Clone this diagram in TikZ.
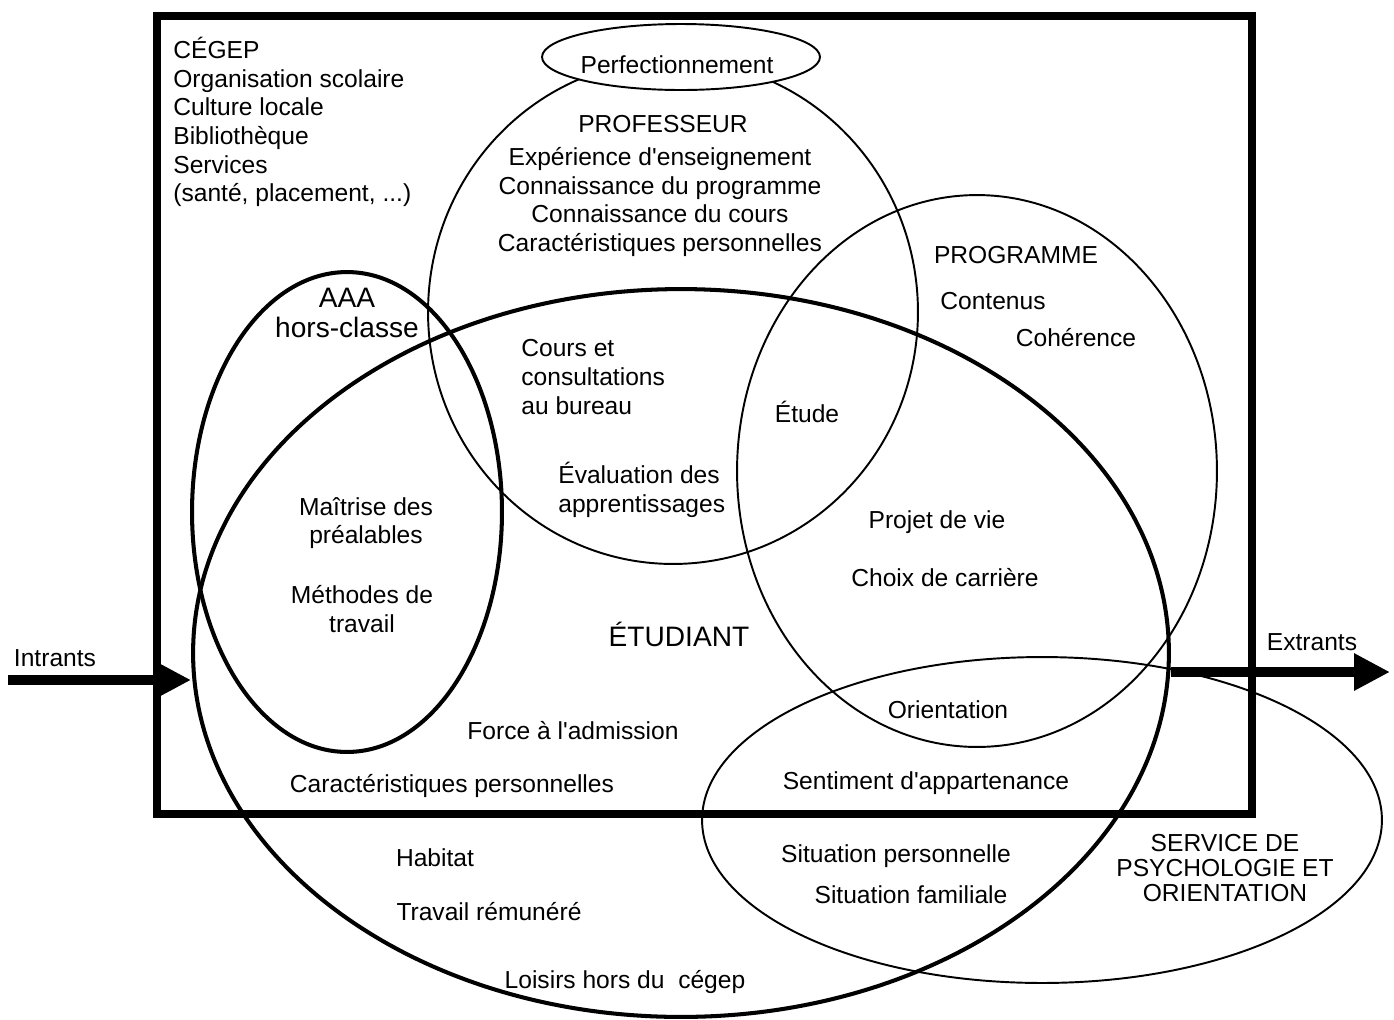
\documentclass[tikz,border=0pt]{standalone}
\usepackage{fontspec}
\setmainfont{Liberation Sans}
\usetikzlibrary{arrows.meta}
\usetikzlibrary{shapes.geometric}
\tikzset {
  % sets of the diagram
  set/.style = {
    draw = black,
    ellipse,
    line width = 1.1pt,
    inner sep = 0
  },
  set thick/.style = {
    set,
    line width = 2.3pt
  },
  frame/.style = {
    draw = black,
    line width = 4.5pt
  },
  % thick in/out arrows
  flow/.style = {
    line width = 0.2cm,
    -{Triangle[length = 0.72cm, width = 0.7cm]}
  }
}
\tikzset {
  txt/.style = {
    font = \fontsize{14}{16.3}\selectfont,
    inner sep = 0,
    align = center
  },
  big txt/.style = {
    txt,
    font = \fontsize{16}{17}\selectfont
  },
  tight txt/.style = {
    txt,
    font = \fontsize{14}{14.2}\selectfont
  }
}
\newcommand{\apos}{\textquotesingle}
\begin{document}
\begin{tikzpicture}[x = 0.02cm, y = -0.02cm]
    \useasboundingbox (0,0) rectangle (1394,1019);

    \draw[frame] (157,16) rectangle (1252,814);

    \node[set] (professeur) at (673,312) [minimum width = 9.8cm, minimum height = 10.08cm] {};
    \node[set] (programme) at (977,471) [minimum width = 9.6cm, minimum height = 11.04cm] {};
    \node[set] (service) at (1042,820) [minimum width = 13.6cm, minimum height = 6.52cm] {};
    \node[set thick] (aaa) at (347,512) [minimum width = 6.2cm, minimum height = 9.6cm] {};
    \node[set thick] (etudiant) at (681,653) [minimum width = 19.52cm, minimum height = 14.56cm] {};
    \node[set, fill = white] (perfectionnement) at (681,57) [minimum width = 5.56cm, minimum height = 1.32cm] {};

    \coordinate (intrants-start) at (8,680);
    \coordinate (extrants-end) at (1390,672);
    \draw[flow] (intrants-start) -- (etudiant.west |- intrants-start);
    \draw[flow] (etudiant.east |- extrants-end) -- (extrants-end);

    \node[txt] (intrants) at (55,658) {Intrants};
    \node[txt] (extrants) at (1312,642) {Extrants};

    \node[txt, anchor = west, align = left] (cegep) at (173,122)
      {CÉGEP\\Organisation scolaire\\Culture locale\\Bibliothèque\\Services\\(santé, placement, ...)};
    \node[txt] (perf-text) at (677,65) {Perfectionnement};
    \node[txt] (prof-title) at (663,124) {PROFESSEUR};
    \node[txt] (prof-items) at (660,202)
      {Expérience d\apos enseignement\\Connaissance du programme\\Connaissance du cours\\Caractéristiques personnelles};
    \node[txt] (prog-title) at (1016,255) {PROGRAMME};
    \node[txt] (contenus) at (993,301) {Contenus};
    \node[txt] (coherence) at (1076,338) {Cohérence};
    \node[big txt, align = center, font = \fontsize{16}{17.5}\selectfont] (aaa-title) at (347,313) {AAA\\hors-classe};
    \node[txt, anchor = west, align = left] (cours) at (521,377) {Cours et\\consultations\\au bureau};
    \node[txt] (etude) at (807,412) {Étude};
    \node[txt, anchor = west, align = left] (evaluation) at (558,490) {Évaluation des\\apprentissages};
    \node[txt] (prealables) at (366,523) {Maîtrise des\\préalables};
    \node[txt] (methodes) at (362,609) {Méthodes de\\travail};
    \node[txt] (projet) at (937,522) {Projet de vie};
    \node[txt] (carriere) at (945,578) {Choix de carrière};
    \node[big txt] (etud-title) at (679,634) {ÉTUDIANT};
    \node[txt] (orientation) at (948,710) {Orientation};
    \node[txt] (admission) at (573,731) {Force à l\apos admission};
    \node[txt] (caract) at (452,786) {Caractéristiques personnelles};
    \node[txt] (appartenance) at (926,783) {Sentiment d\apos appartenance};
    \node[txt] (habitat) at (435,858) {Habitat};
    \node[txt] (travail) at (489,912) {Travail rémunéré};
    \node[txt] (loisirs) at (625,982) {Loisirs hors du\ \ cégep};
    \node[txt] (sit-perso) at (896,856) {Situation personnelle};
    \node[txt] (sit-fam) at (911,895) {Situation familiale};
    \node[tight txt] (service-title) at (1225,868) {SERVICE DE\\PSYCHOLOGIE ET\\ORIENTATION};
  \end{tikzpicture}
\end{document}
